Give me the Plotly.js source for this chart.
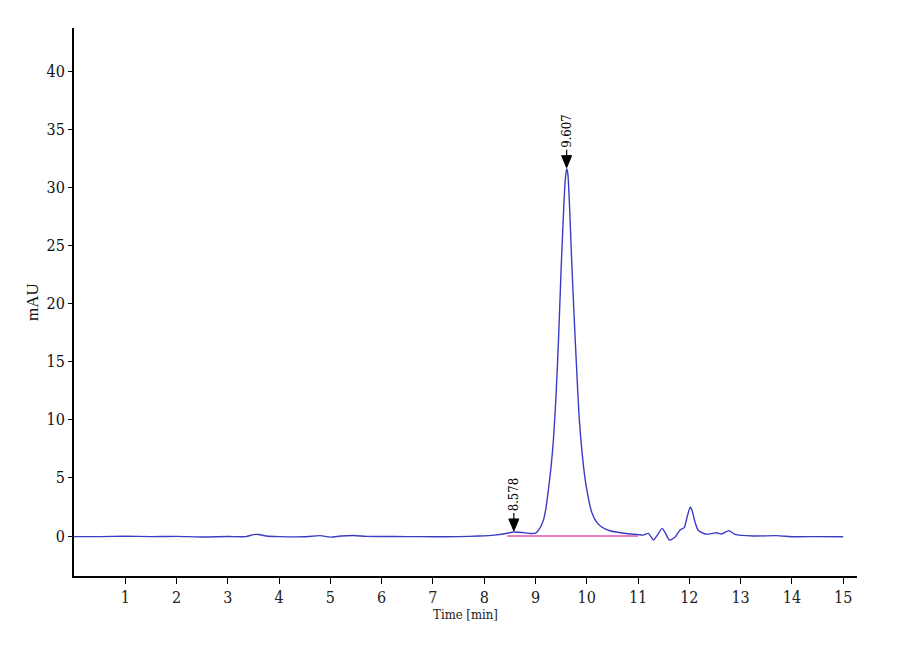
<!DOCTYPE html>
<html>
<head>
<meta charset="utf-8">
<script src="https://cdn.plot.ly/plotly-3.0.1.min.js"></script>
<style>
  body { margin: 0; background: #fff; }
  #grafico { width: 900px; height: 660px; }
</style>
</head>
<body>
<div id="grafico"></div>
<script>
// chromatogram (time in min, signal in mAU)
var tiempo = [
  0, 0.5, 1.0, 1.5, 2.0, 2.5, 3.0, 3.35, 3.5, 3.6, 3.75, 4.0, 4.5, 4.8, 5.0, 5.2, 5.45, 5.7,
  6.0, 6.5, 7.0, 7.5, 7.9, 8.2, 8.4, 8.578, 8.75, 8.9,
  9.0, 9.05, 9.1, 9.15, 9.2, 9.25, 9.3, 9.35, 9.4, 9.45, 9.5, 9.55, 9.58, 9.607, 9.63,
  9.66, 9.7, 9.75, 9.8, 9.85, 9.9, 9.95, 10.0, 10.1, 10.2, 10.3, 10.45, 10.6, 10.8,
  11.0, 11.1, 11.2, 11.3, 11.38, 11.47, 11.54, 11.61, 11.72, 11.82, 11.9, 11.96, 12.02,
  12.06, 12.1, 12.17, 12.31, 12.45, 12.53, 12.63, 12.77, 12.89, 13.25, 13.7, 14.03, 14.5, 15.0
];
var senal = [
  -0.05, -0.05, -0.02, -0.05, -0.03, -0.08, -0.04, -0.05, 0.12, 0.13, 0.0, -0.05, -0.06, 0.03, -0.1, 0.0, 0.05, -0.03,
  -0.04, -0.05, -0.06, -0.05, 0.0, 0.08, 0.2, 0.35, 0.3, 0.22,
  0.25, 0.45, 0.8, 1.3, 2.3, 3.9, 5.8, 8.3, 12.0, 17.0, 23.0, 28.2, 30.6, 31.6, 31.2,
  28.8, 24.3, 19.2, 14.6, 10.3, 7.6, 5.5, 4.0, 2.0, 1.15, 0.75, 0.45, 0.32, 0.2,
  0.12, 0.08, 0.23, -0.34, 0.1, 0.66, 0.2, -0.34, -0.11, 0.52, 0.72, 1.7, 2.5,
  2.1, 1.38, 0.52, 0.17, 0.22, 0.28, 0.17, 0.46, 0.14, 0.0, 0.03, -0.06, -0.05, -0.06
];

// integration baseline
var lineaBaseX = [8.45, 11.0];
var lineaBaseY = [0.0, 0.0];

// marked peaks
var picosT = [8.578, 9.607];
var picosY = [0.35, 31.6];
var picosTexto = ['8.578', '9.607'];

var fuente = 'DejaVu Serif Condensed, Liberation Serif, serif';

var traza1 = {
  x: tiempo,
  y: senal,
  type: 'scatter',
  mode: 'lines',
  line: { color: '#3b3bc4', width: 1.4, shape: 'spline', smoothing: 0.6 },
  hoverinfo: 'skip'
};

var traza2 = {
  x: lineaBaseX,
  y: lineaBaseY,
  type: 'scatter',
  mode: 'lines',
  line: { color: '#e455b5', width: 1.4 },
  hoverinfo: 'skip'
};

// arrow marks: triangle + short stem drawn in pixels above each peak
var formas = [];
var notas = [];
picosT.forEach(function (t, i) {
  formas.push({
    type: 'path',
    xref: 'x', yref: 'y',
    xsizemode: 'pixel', ysizemode: 'pixel',
    xanchor: t, yanchor: picosY[i],
    path: 'M -5 13 L 5 13 L 0 1 Z',
    fillcolor: '#000',
    line: { color: '#000', width: 1 }
  });
  formas.push({
    type: 'line',
    xref: 'x', yref: 'y',
    xsizemode: 'pixel', ysizemode: 'pixel',
    xanchor: t, yanchor: picosY[i],
    x0: 0, x1: 0, y0: 13, y1: 19,
    line: { color: '#000', width: 1.2 }
  });
  notas.push({
    x: t,
    y: picosY[i],
    xref: 'x',
    yref: 'y',
    text: picosTexto[i],
    textangle: -90,
    showarrow: false,
    xanchor: 'center',
    yanchor: 'bottom',
    yshift: 19,
    font: { family: fuente, size: 13, color: '#000' }
  });
});

var layout = {
  width: 900,
  height: 660,
  paper_bgcolor: '#ffffff',
  plot_bgcolor: '#ffffff',
  showlegend: false,
  margin: { l: 74, r: 43, t: 28, b: 84 },
  xaxis: {
    range: [0, 15.27],
    tickmode: 'array',
    tickvals: [1, 2, 3, 4, 5, 6, 7, 8, 9, 10, 11, 12, 13, 14, 15],
    ticks: 'outside',
    ticklen: 6,
    tickwidth: 1,
    tickcolor: '#000',
    showline: true,
    linecolor: '#000',
    linewidth: 2,
    showgrid: false,
    zeroline: false,
    tickfont: { family: fuente, size: 16, color: '#222' },
    title: { text: 'Time [min]', font: { family: fuente, size: 13, color: '#222' }, standoff: 0 }
  },
  yaxis: {
    range: [-3.44, 43.7],
    tickmode: 'array',
    tickvals: [0, 5, 10, 15, 20, 25, 30, 35, 40],
    ticks: 'outside',
    ticklen: 4,
    tickwidth: 1,
    tickcolor: '#000',
    showline: true,
    linecolor: '#000',
    linewidth: 2,
    showgrid: false,
    zeroline: false,
    tickfont: { family: fuente, size: 16, color: '#111' },
    title: { text: 'mAU', font: { family: 'Liberation Serif, serif', size: 17, color: '#111' }, standoff: 4 }
  },
  shapes: formas,
  annotations: notas
};

Plotly.newPlot('grafico', [traza1, traza2], layout, { staticPlot: true });
</script>
</body>
</html>
